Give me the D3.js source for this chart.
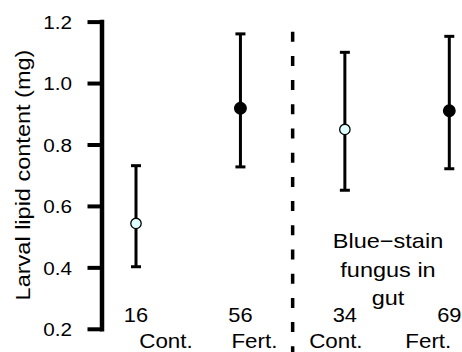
<!DOCTYPE html>
<html>
<head>
<meta charset="utf-8">
<script src="https://cdn.jsdelivr.net/npm/d3@7"></script>
<style>
  html, body { margin: 0; padding: 0; background: #fff; }
  svg { display: block; }
  text { font-family: "Liberation Sans", Arial, Helvetica, sans-serif; fill: #000; }
</style>
</head>
<body>
<svg id="chart" width="462" height="352"></svg>
<script>
// Group order: control / fertilised, without then with blue-stain fungus in gut
const categories = ["Cont.", "Fert.", "Cont.", "Fert."];
const sampleSizes = [16, 56, 34, 69];
const means = [0.543, 0.918, 0.849, 0.910];
const lowerCI = [0.402, 0.727, 0.651, 0.721];
const upperCI = [0.731, 1.160, 1.100, 1.152];
const filledPoint = [false, true, false, true];
const yTicks = [0.2, 0.4, 0.6, 0.8, 1.0, 1.2];
const yLabel = "Larval lipid content (mg)";
const noteLines = ["Blue\u2212stain", "fungus in", "gut"];

const svg = d3.select("#chart");

const x = d3.scaleLinear().domain([1, 4]).range([136, 449.3]);
const y = d3.scaleLinear().domain([0.2, 1.2]).range([328.8, 21.6]);

// helper: text slightly widened horizontally
function label(g, px, py, str, size, stretch, anchor) {
  return g.append("text")
    .attr("transform", `translate(${px},${py}) scale(${stretch},1)`)
    .attr("text-anchor", anchor || "middle")
    .attr("font-size", size)
    .text(str);
}

// y axis
const axisX = 101.5;
const yAxis = d3.axisLeft(y)
  .tickValues(yTicks)
  .tickFormat(d3.format(".1f"))
  .tickSize(14)
  .tickSizeOuter(0)
  .tickPadding(15);

const ga = svg.append("g")
  .attr("transform", `translate(${axisX},0)`)
  .call(yAxis)
  .attr("font-size", 19)
  .attr("font-family", "'Liberation Sans', Arial, sans-serif");
ga.select(".domain").attr("stroke", "#000").attr("stroke-width", 4.5).attr("stroke-linecap", "square");
ga.selectAll(".tick line").attr("stroke", "#000").attr("stroke-width", 4);
ga.selectAll(".tick text")
  .attr("x", -29.5 / 1.09)
  .attr("dy", "0.36em")
  .attr("transform", "scale(1.09,1)")
  .attr("font-size", 19)
  .attr("fill", "#000");

// y axis title
svg.append("text")
  .attr("transform", "translate(30,175) rotate(-90) scale(1.12,1)")
  .attr("text-anchor", "middle")
  .attr("font-size", 21)
  .text(yLabel);

// divider between fungus groups
svg.append("line")
  .attr("x1", x(2.5)).attr("x2", x(2.5))
  .attr("y1", 31.7).attr("y2", 352)
  .attr("stroke", "#000")
  .attr("stroke-width", 3.5)
  .attr("stroke-dasharray", "10,14.2");

const idx = d3.range(categories.length);

// error bars
const eb = svg.append("g");
eb.selectAll("line.bar").data(idx).join("line")
  .attr("class", "bar")
  .attr("x1", i => x(i + 1)).attr("x2", i => x(i + 1))
  .attr("y1", i => y(upperCI[i])).attr("y2", i => y(lowerCI[i]))
  .attr("stroke", "#000").attr("stroke-width", 3);
eb.selectAll("line.capTop").data(idx).join("line")
  .attr("class", "capTop")
  .attr("x1", i => x(i + 1) - 5).attr("x2", i => x(i + 1) + 5)
  .attr("y1", i => y(upperCI[i])).attr("y2", i => y(upperCI[i]))
  .attr("stroke", "#000").attr("stroke-width", 3);
eb.selectAll("line.capBot").data(idx).join("line")
  .attr("class", "capBot")
  .attr("x1", i => x(i + 1) - 5).attr("x2", i => x(i + 1) + 5)
  .attr("y1", i => y(lowerCI[i])).attr("y2", i => y(lowerCI[i]))
  .attr("stroke", "#000").attr("stroke-width", 3);

// means
svg.append("g").selectAll("circle").data(idx).join("circle")
  .attr("cx", i => x(i + 1))
  .attr("cy", i => y(means[i]))
  .attr("r", i => filledPoint[i] ? 5.8 : 5.2)
  .attr("fill", i => filledPoint[i] ? "#000" : "#e0ffff")
  .attr("stroke", "#000")
  .attr("stroke-width", 1.3);

// sample sizes and group labels
const gl = svg.append("g");
const catOffset = [30, 14, -9, -21];
idx.forEach(i => {
  label(gl, x(i + 1), 322, String(sampleSizes[i]), 21, 1.04);
  label(gl, x(i + 1) + catOffset[i], 348.3, categories[i], 21, 1.065);
});

// note on the fungus side
const noteY = [248.3, 276.7, 305];
noteLines.forEach((t, k) => label(gl, 388, noteY[k], t, 21, 1.12));
</script>
</body>
</html>
